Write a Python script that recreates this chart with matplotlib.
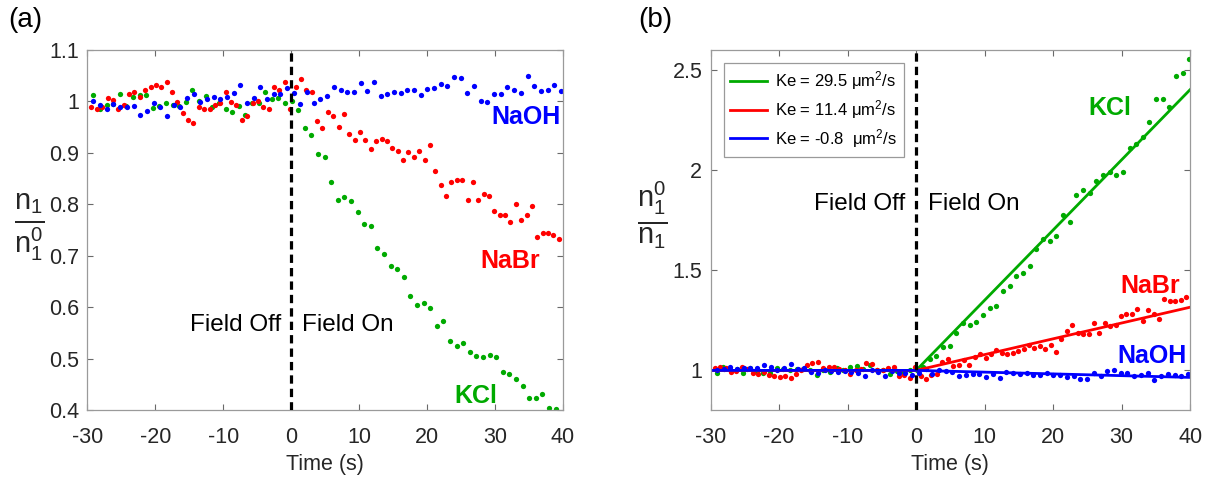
import numpy as np
import matplotlib
matplotlib.use('Agg')
import matplotlib.pyplot as plt
from matplotlib.ticker import FuncFormatter

plt.rcParams['font.family'] = ['Liberation Sans', 'DejaVu Sans']
plt.rcParams['mathtext.fontset'] = 'custom'
plt.rcParams['mathtext.rm'] = 'Liberation Sans'
plt.rcParams['mathtext.it'] = 'Liberation Sans:italic'
plt.rcParams['mathtext.bf'] = 'Liberation Sans:bold'
plt.rcParams['axes.unicode_minus'] = False

out_path = 'out.png'

# normalised concentration n1/n1^0, one sample per frame
kcl = [1.012, 0.985, 0.993, 0.994, 1.014, 0.990, 1.008, 1.012, 1.012, 0.987,
       0.991, 0.996, 0.993, 0.991, 0.999, 1.021, 1.000, 1.010, 0.988, 0.996,
       0.985, 0.978, 0.991, 0.974, 0.996, 0.997, 1.017, 1.004, 1.006, 0.997,
       1.000,
       0.982, 0.948, 0.934, 0.897, 0.892, 0.844, 0.809, 0.814, 0.807, 0.784,
       0.762, 0.757, 0.716, 0.704, 0.680, 0.674, 0.658, 0.622, 0.605, 0.608,
       0.599, 0.564, 0.574, 0.534, 0.526, 0.531, 0.514, 0.506, 0.503, 0.507,
       0.503, 0.474, 0.470, 0.462, 0.447, 0.425, 0.425, 0.432, 0.405, 0.403,
       0.392]
nabr = [0.988, 0.985, 0.988, 1.006, 1.003, 0.985, 0.993, 1.013, 1.017, 1.007,
        1.021, 1.028, 1.032, 1.028, 1.038, 1.017, 0.999, 0.976, 0.964, 0.958,
        0.988, 0.985, 0.985, 0.992, 0.996, 1.017, 0.999, 0.992, 0.963, 0.971,
        0.997, 1.000, 0.989, 0.985, 1.028, 1.021, 1.038, 0.985,
        1.028, 1.043, 1.021, 1.017, 0.961, 0.947, 0.978, 0.972, 0.950, 0.975,
        0.936, 0.924, 0.940, 0.924, 0.908, 0.922, 0.926, 0.922, 0.910, 0.904,
        0.886, 0.901, 0.892, 0.904, 0.886, 0.915, 0.865, 0.837, 0.815, 0.843,
        0.847, 0.847, 0.808, 0.843, 0.808, 0.819, 0.815, 0.787, 0.780, 0.780,
        0.765, 0.801, 0.769, 0.780, 0.797, 0.737, 0.744, 0.744, 0.740, 0.733]
naoh = [1.000, 0.992, 0.984, 0.994, 0.988, 0.988, 0.990, 0.973, 0.981, 0.996,
        0.989, 0.971, 0.993, 0.988, 1.006, 1.013, 0.998, 1.004, 1.008, 1.004,
        1.007, 1.015, 1.031, 0.996, 1.006, 1.027, 1.004, 1.013, 1.013, 1.026,
        1.015, 0.995, 1.017, 0.996, 1.004, 1.010, 1.027, 1.022, 1.017, 1.017,
        1.036, 1.019, 1.038, 1.009, 1.013, 1.017, 1.015, 1.021, 1.021, 1.012,
        1.024, 1.026, 1.034, 1.030, 1.046, 1.044, 1.015, 1.030, 1.001, 0.999,
        1.013, 1.013, 1.028, 1.021, 1.015, 1.048, 1.030, 1.019, 1.022, 1.031,
        1.020]

# first and last frame time (s) of each recording
kcl_span = (-29.1, 39.9)
nabr_span = (-29.4, 39.4)
naoh_span = (-29.1, 39.7)

# linear fits of n1^0/n1 after the field is switched on
fit_t = [-30, 0, 40]
kcl_fit = [1.0, 1.0, 2.40]
nabr_fit = [1.0, 1.0, 1.315]
naoh_fit = [1.0, 1.0, 0.965]
ke_labels = ['Ke = 29.5 μm$^2$/s', 'Ke = 11.4 μm$^2$/s', 'Ke = -0.8  μm$^2$/s']

green = '#00aa00'
red = '#ff0000'
blue = '#0000ff'
tick_col = '#262626'


def style_axes(ax):
    for sp in ax.spines.values():
        sp.set_color('#9a9a9a')
        sp.set_linewidth(0.9)
    ax.tick_params(direction='in', length=4, width=0.8, color='#6a6a6a',
                   top=True, right=True, labelsize=15.5, labelcolor=tick_col, pad=6)
    ax.tick_params(axis='x', pad=12)
    ax.yaxis.set_major_formatter(FuncFormatter(lambda v, p: '%g' % v))
    ax.set_xlim(-30, 40)
    ax.set_xticks(np.arange(-30, 41, 10))
    ax.set_xlabel('Time (s)', fontsize=15.5, color=tick_col, labelpad=4)
    ax.axvline(0, color='k', lw=2.3, ls=(0, (2.6, 1.6)), zorder=5)


def make_plot(out_path=None):
    fig = plt.figure(figsize=(12.08, 4.8), dpi=100)
    series = [(kcl, kcl_span, green), (nabr, nabr_span, red), (naoh, naoh_span, blue)]

    # (a) n1 / n1^0
    ax1 = fig.add_axes([0.0723, 0.1448, 0.3937, 0.752])
    for vals, span, col in series:
        t = np.linspace(span[0], span[1], len(vals))
        ax1.plot(t, vals, 'o', color=col, ms=3.8, mew=0)
    ax1.set_ylim(0.4, 1.1)
    ax1.set_yticks(np.arange(0.4, 1.101, 0.1))
    style_axes(ax1)
    ax1.text(-1.5, 0.565, 'Field Off', fontsize=17.5, ha='right', va='center')
    ax1.text(1.6, 0.565, 'Field On', fontsize=17.5, ha='left', va='center')
    ax1.text(34.6, 0.969, 'NaOH', color=blue, fontsize=18, fontweight='bold', ha='center', va='center')
    ax1.text(32.3, 0.690, 'NaBr', color=red, fontsize=18, fontweight='bold', ha='center', va='center')
    ax1.text(27.2, 0.428, 'KCl', color=green, fontsize=18, fontweight='bold', ha='center', va='center')
    ax1.text(-0.122, 0.508, r'$\frac{\mathrm{n}_1}{\mathrm{n}_1^0}$', transform=ax1.transAxes,
             fontsize=30, ha='center', va='center', color=tick_col)

    # (b) n1^0 / n1 with fitted lines
    ax2 = fig.add_axes([0.5883, 0.1448, 0.3969, 0.752])
    for vals, span, col in series:
        t = np.linspace(span[0], span[1], len(vals))
        ax2.plot(t, 1.0 / np.array(vals), 'o', color=col, ms=3.8, mew=0)
    fits = []
    for fit, col, lab in zip([kcl_fit, nabr_fit, naoh_fit], [green, red, blue], ke_labels):
        ln, = ax2.plot(fit_t, fit, '-', color=col, lw=2, label=lab)
        fits.append(ln)
    ax2.set_ylim(0.8, 2.6)
    ax2.set_yticks([1, 1.5, 2, 2.5])
    style_axes(ax2)
    ax2.text(-1.6, 1.83, 'Field Off', fontsize=17.5, ha='right', va='center')
    ax2.text(1.75, 1.83, 'Field On', fontsize=17.5, ha='left', va='center')
    ax2.text(28.3, 2.307, 'KCl', color=green, fontsize=18, fontweight='bold', ha='center', va='center')
    ax2.text(34.1, 1.42, 'NaBr', color=red, fontsize=18, fontweight='bold', ha='center', va='center')
    ax2.text(34.4, 1.074, 'NaOH', color=blue, fontsize=18, fontweight='bold', ha='center', va='center')
    ax2.text(-0.121, 0.541, r'$\frac{\mathrm{n}_1^0}{\mathrm{n}_1}$', transform=ax2.transAxes,
             fontsize=30, ha='center', va='center', color=tick_col)
    leg = ax2.legend(handles=fits, loc='upper left', bbox_to_anchor=(0.027, 0.964),
                     borderaxespad=0, fontsize=12, handlelength=2.2, handletextpad=0.5,
                     labelspacing=0.36, borderpad=0.4, fancybox=False, framealpha=1)
    leg.get_frame().set_edgecolor('#9a9a9a')
    leg.get_frame().set_linewidth(0.9)

    fig.text(0.007, 0.958, '(a)', fontsize=20, va='center', ha='left')
    fig.text(0.528, 0.958, '(b)', fontsize=20, va='center', ha='left')

    if out_path:
        fig.savefig(out_path, dpi=100)
    return fig


if __name__ == '__main__':
    fig = make_plot(out_path)
